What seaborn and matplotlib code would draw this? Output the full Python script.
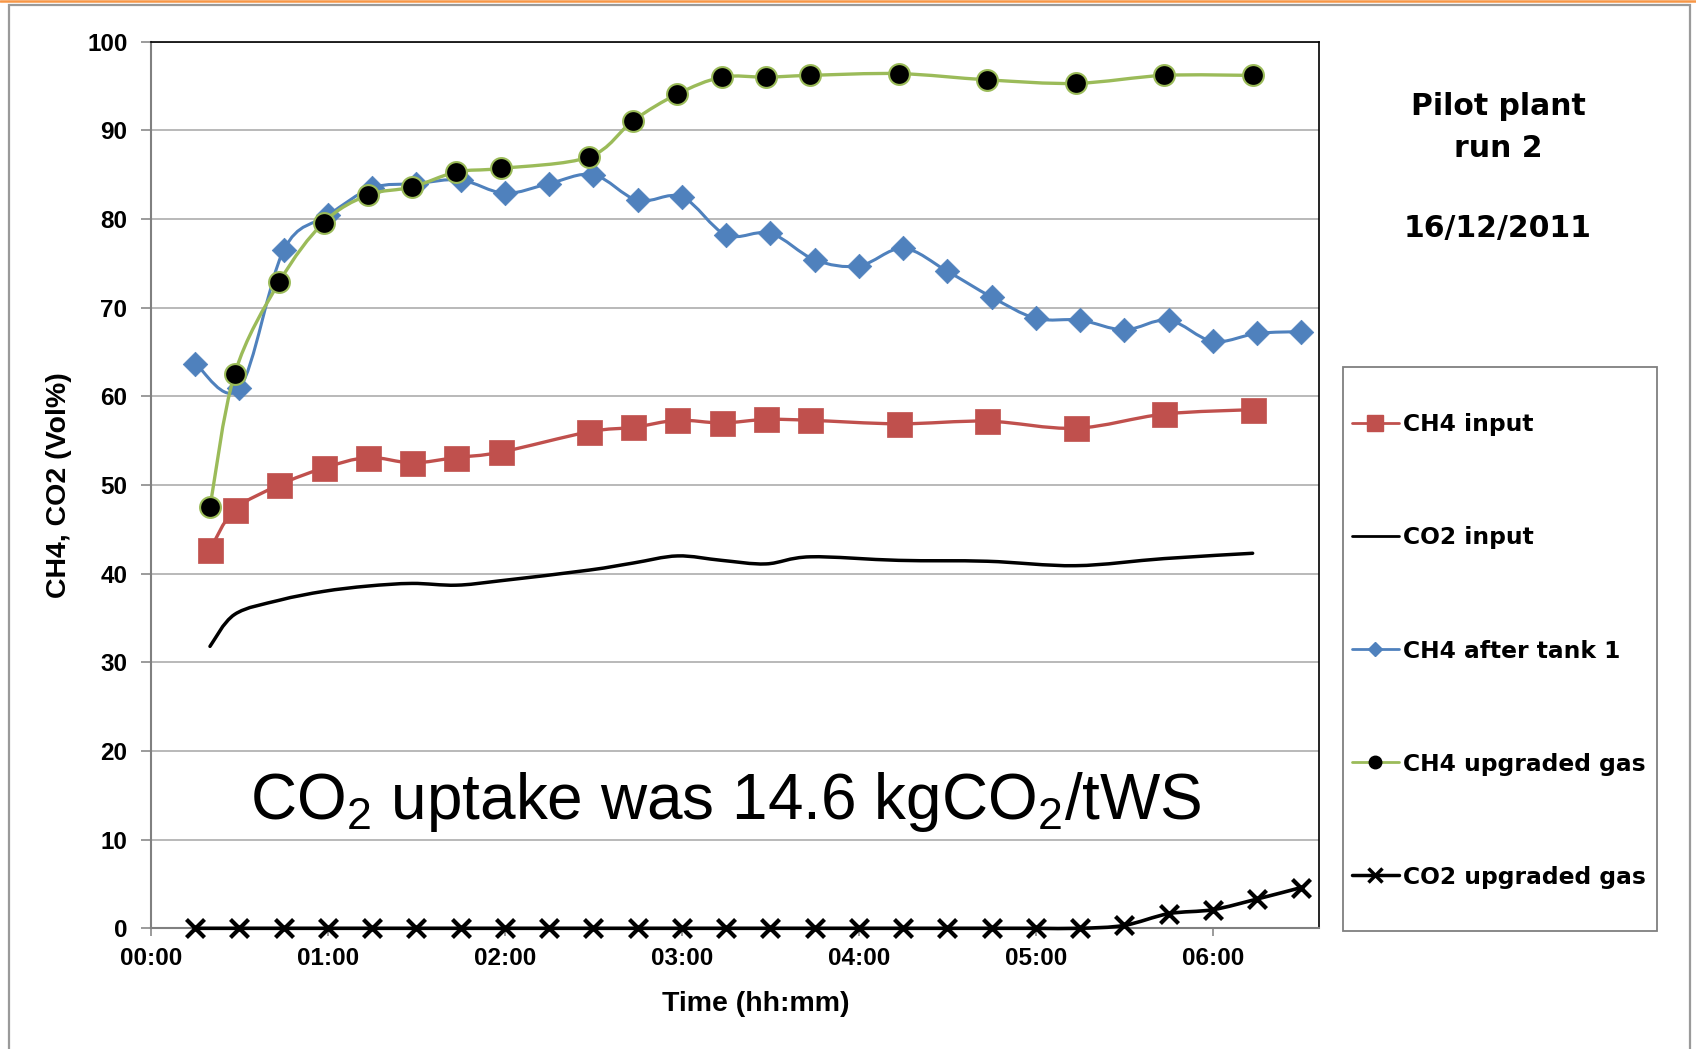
import numpy as np
import pandas as pd
import matplotlib
matplotlib.use("Agg")
import matplotlib.pyplot as plt
import seaborn as sns
from matplotlib.path import Path
from matplotlib.patches import PathPatch, Rectangle
from matplotlib.lines import Line2D

# ---------------- data ----------------
# sampling times of CH4 input / CO2 input / CH4 upgraded gas
times_a = ["00:20:00", "00:28:20", "00:43:30", "00:58:30", "01:13:30", "01:28:30",
           "01:43:30", "01:58:30", "02:28:30", "02:43:30", "02:58:30", "03:13:30",
           "03:28:30", "03:43:30", "04:13:30", "04:43:30", "05:13:30", "05:43:30",
           "06:13:30"]
ch4_input = [42.7, 47.2, 50.0, 51.9, 53.1, 52.5, 53.1, 53.7, 56.0, 56.5, 57.3, 57.0,
             57.4, 57.3, 56.9, 57.2, 56.4, 58.0, 58.5]
co2_input = [31.8, 35.4, 37.0, 38.0, 38.6, 38.9, 38.7, 39.2, 40.4, 41.2, 42.0, 41.5,
             41.1, 41.9, 41.5, 41.4, 40.9, 41.7, 42.3]
ch4_upgraded = [47.5, 62.5, 72.9, 79.6, 82.7, 83.6, 85.3, 85.7, 87.0, 91.1, 94.1, 96.0,
                96.0, 96.2, 96.4, 95.7, 95.3, 96.2, 96.2]

# sampling times of CH4 after tank 1 / CO2 upgraded gas
times_b = ["00:15:00", "00:30:00", "00:45:00", "01:00:00", "01:15:00", "01:30:00",
           "01:45:00", "02:00:00", "02:15:00", "02:30:00", "02:45:00", "03:00:00",
           "03:15:00", "03:30:00", "03:45:00", "04:00:00", "04:15:00", "04:30:00",
           "04:45:00", "05:00:00", "05:15:00", "05:30:00", "05:45:00", "06:00:00",
           "06:15:00", "06:30:00"]
ch4_after_tank1 = [63.7, 60.9, 76.5, 80.4, 83.5, 84.0, 84.4, 82.9, 84.0, 85.0, 82.1, 82.5,
                   78.2, 78.4, 75.4, 74.7, 76.7, 74.1, 71.2, 68.8, 68.6, 67.5, 68.6, 66.2,
                   67.1, 67.3]
co2_upgraded = [0, 0, 0, 0, 0, 0, 0, 0, 0, 0, 0, 0, 0, 0, 0, 0, 0, 0, 0, 0, 0,
                0.33, 1.65, 2.1, 3.3, 4.6]

xtick_labels = ["00:00", "01:00", "02:00", "03:00", "04:00", "05:00", "06:00"]
ytick_values = [0, 10, 20, 30, 40, 50, 60, 70, 80, 90, 100]
series_names = ["CH4 input", "CO2 input", "CH4 after tank 1", "CH4 upgraded gas",
                "CO2 upgraded gas"]

# ---------------- styling ----------------
RED, BLUE, GREEN, BLACK = "#C0504D", "#4F81BD", "#9BBB59", "#000000"
W, H = 1696, 1049

sns.set_style("white")
plt.rcParams["font.family"] = ["Liberation Sans", "DejaVu Sans"]
plt.rcParams["mathtext.default"] = "regular"
plt.rcParams["text.color"] = "black"
plt.rcParams["axes.labelcolor"] = "black"
plt.rcParams["xtick.labelcolor"] = "black"
plt.rcParams["ytick.labelcolor"] = "black"


def hours(ts):
    return pd.to_timedelta(pd.Series(ts)).dt.total_seconds().to_numpy() / 3600.0


ha = hours(times_a)
hb = hours(times_b)
hticks = hours([t + ":00" for t in xtick_labels])

df_a = pd.DataFrame({"h": ha, "ch4_in": ch4_input, "co2_in": co2_input, "ch4_up": ch4_upgraded})
df_b = pd.DataFrame({"h": hb, "ch4_t1": ch4_after_tank1, "co2_up": co2_upgraded})

fig = plt.figure(figsize=(W / 100, H / 100), dpi=100)
fig.patch.set_facecolor("white")
ax = fig.add_axes([151 / W, 1 - 928.3 / H, (1319 - 151) / W, (928.3 - 41.7) / H])


def smooth_path(x, y, t=1 / 6):
    x = np.asarray(x, float)
    y = np.asarray(y, float)
    n = len(x)
    verts = [(x[0], y[0])]
    codes = [Path.MOVETO]
    for i in range(n - 1):
        xp, yp = (x[i - 1], y[i - 1]) if i > 0 else (x[i], y[i])
        xn, yn = (x[i + 2], y[i + 2]) if i + 2 < n else (x[i + 1], y[i + 1])
        c1 = (x[i] + (x[i + 1] - xp) * t, y[i] + (y[i + 1] - yp) * t)
        c2 = (x[i + 1] - (xn - x[i]) * t, y[i + 1] - (yn - y[i]) * t)
        verts += [c1, c2, (x[i + 1], y[i + 1])]
        codes += [Path.CURVE4] * 3
    return Path(verts, codes)


def add_line(x, y, color, lw, z):
    p = PathPatch(smooth_path(x, y), fill=False, edgecolor=color, lw=lw,
                  capstyle="round", joinstyle="round", zorder=z, clip_on=False)
    ax.add_patch(p)


# CH4 input
add_line(df_a["h"], df_a["ch4_in"], RED, 2.4, 3.0)
sns.scatterplot(data=df_a, x="h", y="ch4_in", marker="s", s=18 ** 2, color=RED,
                edgecolor=RED, linewidth=0.5, ax=ax, zorder=3.05, clip_on=False, legend=False)
# CO2 input
add_line(df_a["h"], df_a["co2_in"], BLACK, 2.5, 3.1)
# CH4 after tank 1
add_line(df_b["h"], df_b["ch4_t1"], BLUE, 2.2, 3.2)
sns.scatterplot(data=df_b, x="h", y="ch4_t1", marker="D", s=12.5 ** 2, color=BLUE,
                edgecolor=BLUE, linewidth=0.5, ax=ax, zorder=3.25, clip_on=False, legend=False)
# CH4 upgraded gas
add_line(df_a["h"], df_a["ch4_up"], GREEN, 2.4, 3.3)
sns.scatterplot(data=df_a, x="h", y="ch4_up", marker="o", s=15 ** 2, color=BLACK,
                edgecolor=GREEN, linewidth=1.5, ax=ax, zorder=3.35, clip_on=False, legend=False)
# CO2 upgraded gas
add_line(df_b["h"], df_b["co2_up"], BLACK, 2.6, 3.4)
sns.scatterplot(data=df_b, x="h", y="co2_up", marker="x", s=13 ** 2, color=BLACK,
                linewidth=3, ax=ax, zorder=3.45, clip_on=False, legend=False)

# axes
ax.set_xlim(0, 6.6)
ax.set_ylim(0, 100)
ax.set_xticks(hticks, labels=xtick_labels, fontsize=17.5, fontweight="bold")
ax.set_yticks(ytick_values, labels=[str(v) for v in ytick_values], fontsize=17.5,
              fontweight="bold")
ax.tick_params(axis="y", direction="out", length=7, width=1.1, color="#808080", pad=10,
               left=True, labelcolor="black")
ax.tick_params(axis="x", direction="out", length=6, width=1.1, color="#808080", pad=7.5,
               bottom=True, labelcolor="black")
ax.set_axisbelow(True)
ax.yaxis.grid(True, color="#a6a6a6", lw=1.1)
ax.xaxis.grid(False)
for side in ["left", "bottom"]:
    ax.spines[side].set_color("#808080")
    ax.spines[side].set_linewidth(1.5)
for side in ["top", "right"]:
    ax.spines[side].set_color("black")
    ax.spines[side].set_linewidth(1.2)
    ax.spines[side].set_zorder(2.5)

ax.set_xlabel("Time (hh:mm)", fontsize=20.5, fontweight="bold", va="top", color="black")
ax.xaxis.set_label_coords(0.518, -0.0703)
ax.set_ylabel("CH4, CO2 (Vol%)", fontsize=20.5, fontweight="bold", color="black")
ax.yaxis.set_label_coords(-0.068, 0.5)

ax.text(0.562, 12.37, "CO$_2$ uptake was 14.6 kgCO$_2$/tWS", fontsize=46,
        ha="left", va="baseline", zorder=5, color="black")

# title block
tkw = dict(ha="center", va="baseline", fontsize=21.5, fontweight="bold",
           family=["DejaVu Sans"], transform=fig.transFigure, color="black")
fig.text(1498 / W, 1 - 115 / H, "Pilot plant", **tkw)
fig.text(1498 / W, 1 - 157 / H, "run 2", **tkw)
fig.text(1498 / W, 1 - 237.5 / H, "16/12/2011", **tkw)

# legend
handles = [
    Line2D([], [], color=RED, lw=2, marker="s", ms=11, mec=RED),
    Line2D([], [], color=BLACK, lw=2),
    Line2D([], [], color=BLUE, lw=2, marker="D", ms=7.5, mec=BLUE),
    Line2D([], [], color=GREEN, lw=2, marker="o", ms=9, mfc=BLACK, mec=BLACK),
    Line2D([], [], color=BLACK, lw=2.5, marker="x", ms=10, mew=2.5),
]
leg = fig.legend(handles, series_names, loc="center left",
                 bbox_to_anchor=(1352 / W, 1 - 651 / H), frameon=False, borderpad=0,
                 borderaxespad=0, handlelength=2.0, handletextpad=0.17, labelspacing=3.86,
                 prop={"family": "DejaVu Sans", "weight": "bold", "size": 16.8})
for t in leg.get_texts():
    t.set_color("black")
fig.add_artist(Rectangle((1343 / W, 1 - 931 / H), (1657 - 1343) / W, (931 - 367) / H,
                         transform=fig.transFigure, fill=False, edgecolor="#7f7f7f",
                         lw=1.3))

# outer frame and top accent line
fig.add_artist(Rectangle((9 / W, -0.02), (1690 - 9) / W, 1.02 - 5 / H,
                         transform=fig.transFigure, fill=False, edgecolor="#9a9a9a",
                         lw=1.6))
fig.add_artist(Line2D([0, 1], [1 - 1 / H, 1 - 1 / H], transform=fig.transFigure,
                      color="#F79646", lw=1.8))

fig.savefig("out.png", dpi=100, facecolor="white")
